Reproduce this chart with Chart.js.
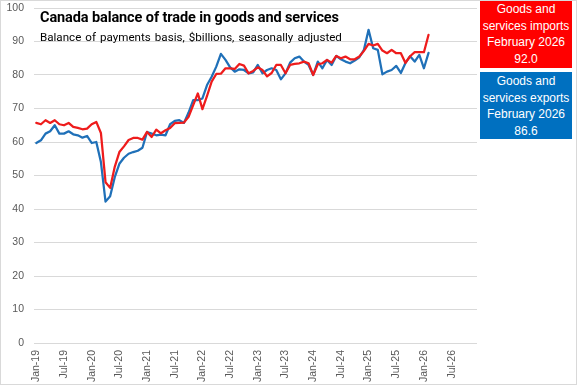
<!DOCTYPE html>
<html>
<head>
<meta charset="utf-8">
<script src="https://cdn.jsdelivr.net/npm/chart.js@4/dist/chart.umd.min.js"></script>
<style>
  html, body { margin: 0; padding: 0; background: #fff; }
  #wrap { position: relative; width: 577px; height: 385px; overflow: hidden; }
  #frame { position: absolute; left: 0; top: 0; width: 575px; height: 383px; border: 1px solid #d9d9d9; pointer-events: none; }
  canvas { position: absolute; left: 0; top: 0; }
  .title { position: absolute; left: 40px; top: 9px; font: bold 14.5px Roboto, "Liberation Sans", sans-serif; color: #000; white-space: nowrap; letter-spacing: -0.1px; }
  .subtitle { position: absolute; left: 40px; top: 30px; font: 11.6px Roboto, "Liberation Sans", sans-serif; color: #000; white-space: nowrap; word-spacing: 1.2px; }
  .box { position: absolute; left: 480px; width: 92px; color: #fff; text-align: center; font: 12px "Liberation Sans", Arial, sans-serif; line-height: 16.5px; box-sizing: border-box; padding-top: 1px; }
  #boxImp { top: 0px; height: 68px; background: #ff0000; }
  #boxExp { top: 72px; height: 67px; background: #0070c0; }
</style>
</head>
<body>
<div id="wrap">
  <canvas id="c" width="577" height="385"></canvas>
  <div class="title">Canada balance of trade in goods and services</div>
  <div class="subtitle">Balance of payments basis, $billions, seasonally adjusted</div>
  <div class="box" id="boxImp">Goods and<br>services imports<br>February 2026<br>92.0</div>
  <div class="box" id="boxExp">Goods and<br>services exports<br>February 2026<br>86.6</div>
  <div id="frame"></div>
</div>
<script>
// Monthly categories, Jan-19 .. Dec-26
const months = [
  'Jan-19','Feb-19','Mar-19','Apr-19','May-19','Jun-19','Jul-19','Aug-19','Sep-19','Oct-19','Nov-19','Dec-19',
  'Jan-20','Feb-20','Mar-20','Apr-20','May-20','Jun-20','Jul-20','Aug-20','Sep-20','Oct-20','Nov-20','Dec-20',
  'Jan-21','Feb-21','Mar-21','Apr-21','May-21','Jun-21','Jul-21','Aug-21','Sep-21','Oct-21','Nov-21','Dec-21',
  'Jan-22','Feb-22','Mar-22','Apr-22','May-22','Jun-22','Jul-22','Aug-22','Sep-22','Oct-22','Nov-22','Dec-22',
  'Jan-23','Feb-23','Mar-23','Apr-23','May-23','Jun-23','Jul-23','Aug-23','Sep-23','Oct-23','Nov-23','Dec-23',
  'Jan-24','Feb-24','Mar-24','Apr-24','May-24','Jun-24','Jul-24','Aug-24','Sep-24','Oct-24','Nov-24','Dec-24',
  'Jan-25','Feb-25','Mar-25','Apr-25','May-25','Jun-25','Jul-25','Aug-25','Sep-25','Oct-25','Nov-25','Dec-25',
  'Jan-26','Feb-26','Mar-26','Apr-26','May-26','Jun-26','Jul-26','Aug-26','Sep-26','Oct-26','Nov-26','Dec-26'
];
// Axis tick labels shown (every six months)
const tickLabels = ['Jan-19','Jul-19','Jan-20','Jul-20','Jan-21','Jul-21','Jan-22','Jul-22',
                    'Jan-23','Jul-23','Jan-24','Jul-24','Jan-25','Jul-25','Jan-26','Jul-26'];
// Goods and services imports, $billions (Jan-19 .. Feb-26)
const imports = [
  65.7, 65.3, 66.5, 65.7, 66.5, 65.3, 65.0, 65.7, 64.5, 64.2, 63.8, 64.0,
  65.3, 66.0, 62.7, 48.0, 46.3, 52.6, 57.0, 58.7, 60.6, 61.2, 61.2, 60.7,
  63.0, 61.5, 63.7, 62.6, 63.5, 64.2, 65.6, 65.7, 65.8, 67.5, 71.0, 74.5,
  69.8, 73.8, 78.0, 80.3, 80.4, 82.0, 82.0, 81.8, 83.3, 82.8, 80.5, 81.2,
  82.3, 81.5, 79.6, 80.6, 83.0, 83.0, 80.5, 83.0, 83.3, 83.5, 84.0, 83.5,
  80.0, 83.2, 83.5, 84.5, 83.7, 85.7, 85.0, 85.5, 84.7, 84.7, 85.5, 87.2,
  89.3, 88.8, 89.3, 87.3, 86.5, 87.5, 86.5, 86.5, 83.6, 85.6, 86.8, 86.8,
  86.8, 92.0
];
// Goods and services exports, $billions (Jan-19 .. Feb-26)
const exports = [
  59.7, 60.5, 62.5, 63.2, 65.0, 62.5, 62.5, 63.2, 62.3, 62.0, 61.3, 61.8,
  59.7, 60.0, 54.0, 42.2, 43.8, 49.5, 53.5, 55.3, 56.5, 57.0, 57.4, 58.3,
  63.0, 62.5, 62.0, 62.2, 62.0, 65.3, 66.3, 66.5, 65.7, 68.8, 72.5, 72.5,
  73.0, 77.0, 79.5, 82.5, 86.3, 84.5, 82.3, 81.0, 81.7, 81.5, 80.5, 80.8,
  83.0, 80.5, 81.5, 82.0, 81.5, 78.7, 80.5, 83.7, 85.0, 85.5, 84.0, 83.0,
  80.0, 84.0, 82.0, 84.5, 83.0, 85.7, 84.7, 84.0, 83.5, 84.3, 85.3, 87.5,
  93.5, 88.0, 87.5, 80.2, 81.0, 81.5, 82.7, 80.6, 83.6, 85.6, 84.0, 86.0,
  82.0, 86.6
];

const tickFont = { family: '"Liberation Sans", Arial, sans-serif', size: 10.5 };

new Chart(document.getElementById('c'), {
  type: 'line',
  data: {
    labels: months,
    datasets: [
      { label: 'Goods and services imports', data: imports, borderColor: '#ee1c1c', borderWidth: 2.25 },
      { label: 'Goods and services exports', data: exports, borderColor: '#1f70b8', borderWidth: 2.25 }
    ]
  },
  options: {
    responsive: false,
    animation: false,
    devicePixelRatio: 1,
    layout: { padding: { left: 0, right: 100, top: 8, bottom: 0 } },
    elements: {
      point: { radius: 0, hoverRadius: 0 },
      line: { tension: 0, borderJoinStyle: 'round', borderCapStyle: 'round', fill: false }
    },
    plugins: { legend: { display: false }, tooltip: { enabled: false } },
    scales: {
      x: {
        type: 'category',
        offset: true,
        grid: { display: false, drawTicks: false },
        border: { display: false },
        ticks: {
          autoSkip: false,
          maxRotation: 90,
          minRotation: 90,
          padding: 7,
          color: '#595959',
          font: tickFont,
          callback: function (value, index) {
            const lbl = months[index];
            return tickLabels.includes(lbl) ? lbl : '';
          }
        },
        afterFit: function (scale) {
          scale.height = 42;
          scale.paddingLeft = 0; scale.paddingRight = 0;
          scale.paddingTop = 0; scale.paddingBottom = 0;
        }
      },
      y: {
        min: 0,
        max: 100,
        ticks: { stepSize: 10, color: '#595959', font: tickFont, padding: 10 },
        grid: { color: '#d9d9d9', lineWidth: 1, drawTicks: false },
        border: { display: false },
        afterFit: function (scale) {
          scale.width = 34;
          scale.paddingTop = 0; scale.paddingBottom = 0;
          scale.paddingLeft = 0; scale.paddingRight = 0;
        }
      }
    }
  }
});
</script>
</body>
</html>
